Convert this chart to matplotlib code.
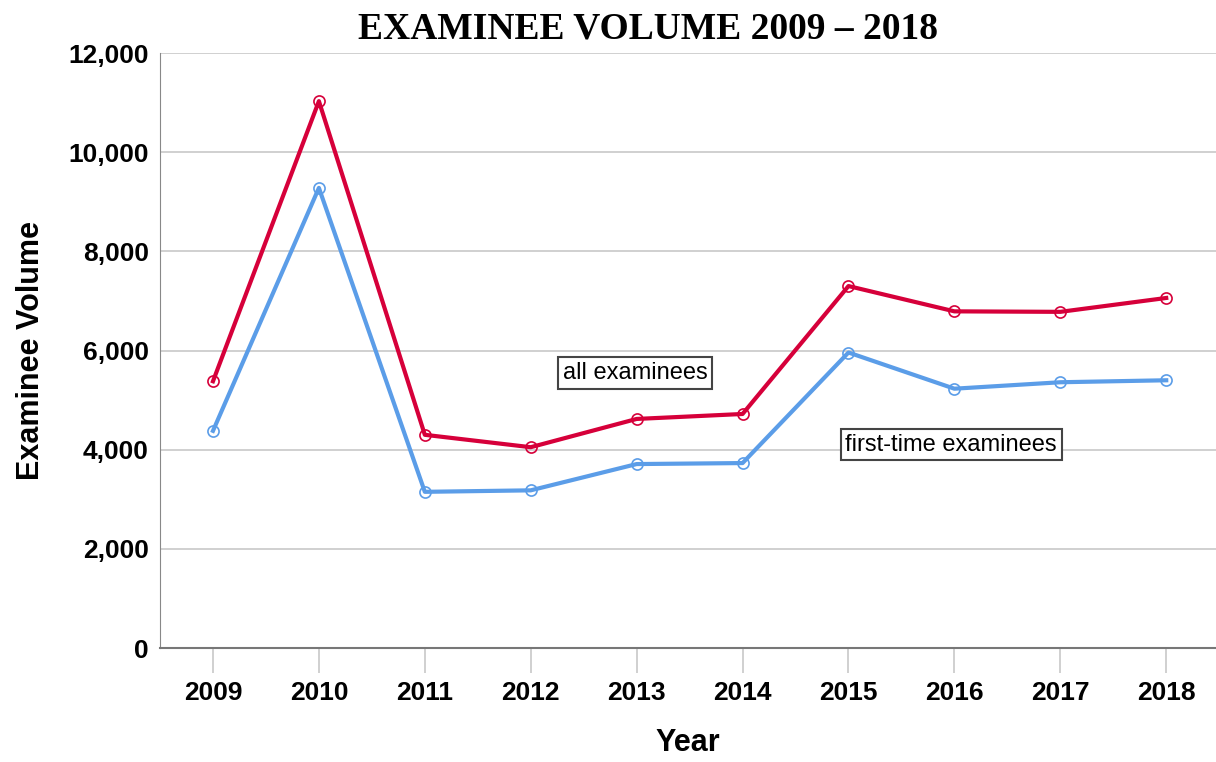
import matplotlib.pyplot as plt
from matplotlib.ticker import FuncFormatter

years = [2009, 2010, 2011, 2012, 2013, 2014, 2015, 2016, 2017, 2018]
all_examinees = [5380, 11030, 4300, 4050, 4620, 4720, 7300, 6790, 6780, 7060]
first_time = [4380, 9280, 3150, 3180, 3710, 3730, 5960, 5230, 5360, 5400]

red = '#d6003a'
blue = '#5b9de8'

plt.rcParams['font.family'] = ['Liberation Sans', 'DejaVu Sans']

fig = plt.figure(figsize=(12.16, 7.62), dpi=100)
ax = fig.add_axes([0.1316, 0.1496, 0.8684, 0.7808])

ax.plot(years, all_examinees, color=red, lw=3, marker='o', ms=8,
        mfc='none', mec=red, mew=1.2, zorder=3)
ax.plot(years, first_time, color=blue, lw=3, marker='o', ms=8,
        mfc='none', mec=blue, mew=1.2, zorder=3)

ax.set_xlim(2008.5, 2018.47)
ax.set_ylim(0, 12000)
ax.set_yticks(range(0, 12001, 2000))
ax.set_xticks(years)
ax.yaxis.set_major_formatter(FuncFormatter(lambda v, p: f'{int(v):,}'))
ax.grid(axis='y', color='#c8c8c8', lw=1.2, zorder=0)

for s in ['top', 'right']:
    ax.spines[s].set_visible(False)
ax.spines['left'].set_color('#888888')
ax.spines['bottom'].set_color('#777777')
ax.spines['bottom'].set_linewidth(1.5)

ax.tick_params(axis='y', length=0, pad=8, labelsize=19)
ax.tick_params(axis='x', length=18, color='#c8c8c8', width=1.2, pad=6, labelsize=19)
for lab in ax.get_xticklabels() + ax.get_yticklabels():
    lab.set_fontweight('bold')

ax.set_xlabel('Year', fontsize=22, fontweight='bold', labelpad=16)
ax.set_ylabel('Examinee Volume', fontsize=22, fontweight='bold', labelpad=16)

box = dict(boxstyle='square,pad=0.2', fc='white', ec='#444444', lw=1.5)
ax.text(2012.3, 5550, 'all examinees', fontsize=17, va='center', ha='left', bbox=box)
ax.text(2014.97, 4100, 'first-time examinees', fontsize=17, va='center', ha='left', bbox=box)

fig.text(0.533, 0.962, 'EXAMINEE VOLUME 2009 \u2013 2018', ha='center', va='center',
         fontsize=27, fontweight='bold', family='Liberation Serif')

fig.savefig('out.png', dpi=100)
